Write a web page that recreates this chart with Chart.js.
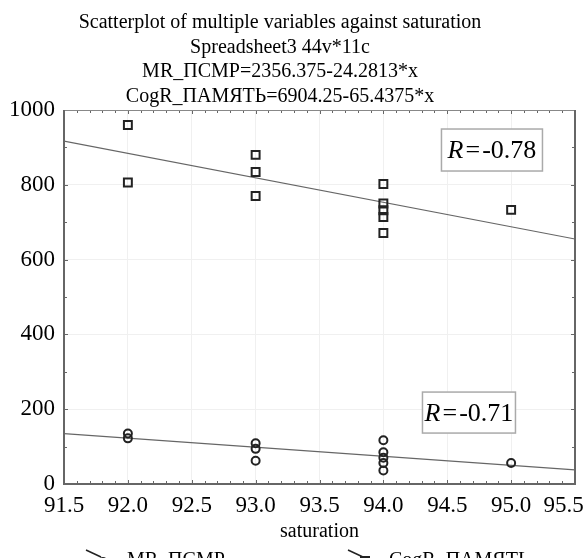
<!DOCTYPE html>
<html>
<head>
<meta charset="utf-8">
<script src="https://cdn.jsdelivr.net/npm/chart.js@4.4.1/dist/chart.umd.min.js"></script>
<style>
  html, body { margin: 0; padding: 0; background: #fff; overflow: hidden; }
  canvas { display: block; }
</style>
</head>
<body>
<canvas id="chart" width="588" height="558"></canvas>
<script>
// Данные
const TITLE_LINES = [
  'Scatterplot of multiple variables against saturation',
  'Spreadsheet3 44v*11c',
  'MR_ПСМР=2356.375-24.2813*x',
  'CogR_ПАМЯТЬ=6904.25-65.4375*x',
];
const X_TITLE = 'saturation';
const SERIES = ['MR_ПСМР', 'CogR_ПАМЯТЬ'];

const satX    = [92, 92, 93, 93, 93, 94, 94, 94, 94, 94, 95];
const mrVals  = [135, 122, 109, 94, 62, 117, 85, 70, 56, 36, 56];
const cogVals = [960, 806, 880, 834, 770, 802, 750, 732, 714, 671, 733];

const fitX   = [91.5, 95.5];
const mrFit  = [134.6, 37.5];
const cogFit = [916.7, 655.0];

const R_TEXT = ['-0.71', '-0.78'];

const X_TICKS = [91.5, 92.0, 92.5, 93.0, 93.5, 94.0, 94.5, 95.0, 95.5];
const Y_TICKS = [0, 200, 400, 600, 800, 1000];

const SERIF = '"Liberation Serif", "Times New Roman", serif';
const toPts = (xs, ys) => xs.map((x, i) => ({ x, y: ys[i] }));

const titlePlugin = {
  id: 'titleLines',
  afterDraw(chart) {
    const { ctx } = chart;
    ctx.save();
    ctx.fillStyle = '#000';
    ctx.font = `20px ${SERIF}`;
    ctx.textAlign = 'center';
    ctx.textBaseline = 'alphabetic';
    TITLE_LINES.forEach((t, i) => ctx.fillText(t, 280, 28 + i * 24.7));
    ctx.restore();
  },
};

// рамка и внутренние засечки на всех четырёх сторонах
const framePlugin = {
  id: 'frame',
  afterDatasetsDraw(chart) {
    const { ctx, chartArea: a, scales: { x, y } } = chart;
    ctx.save();
    ctx.strokeStyle = '#666';
    ctx.lineWidth = 1;
    ctx.beginPath();
    for (let i = 0; i <= 40; i++) {
      const px = Math.round(x.getPixelForValue(91.5 + i * 0.1)) + 0.5;
      const len = i % 5 === 0 ? 4 : 3;
      ctx.moveTo(px, a.bottom); ctx.lineTo(px, a.bottom - len);
      ctx.moveTo(px, a.top); ctx.lineTo(px, a.top + len);
    }
    for (let i = 0; i <= 10; i++) {
      const py = Math.round(y.getPixelForValue(i * 100)) + 0.5;
      const len = i % 2 === 0 ? 4 : 3;
      ctx.moveTo(a.left, py); ctx.lineTo(a.left + len, py);
      ctx.moveTo(a.right, py); ctx.lineTo(a.right - len, py);
    }
    ctx.stroke();

    ctx.strokeStyle = '#888';
    ctx.lineWidth = 1;
    ctx.beginPath();
    ctx.moveTo(a.left, a.top + 0.5); ctx.lineTo(a.right, a.top + 0.5);
    ctx.stroke();
    ctx.strokeStyle = '#666';
    ctx.lineWidth = 2;
    ctx.beginPath();
    ctx.moveTo(a.left, a.top); ctx.lineTo(a.left, a.bottom); ctx.lineTo(a.right, a.bottom); ctx.lineTo(a.right, a.top);
    ctx.stroke();
    ctx.restore();
  },
};

// рамки с коэффициентом корреляции
const rBoxPlugin = {
  id: 'rBoxes',
  afterDatasetsDraw(chart, args, opts) {
    const { ctx, scales: { x, y } } = chart;
    opts.boxes.forEach((b) => {
      const cx = x.getPixelForValue(b.x), cy = y.getPixelForValue(b.y);
      const l = cx - b.w / 2, t = cy - b.h / 2;
      ctx.save();
      ctx.fillStyle = '#fff';
      ctx.fillRect(l, t, b.w, b.h);
      ctx.strokeStyle = '#aaa';
      ctx.lineWidth = 1.5;
      ctx.strokeRect(l, t, b.w, b.h);
      ctx.fillStyle = '#000';
      ctx.textBaseline = 'alphabetic';
      ctx.textAlign = 'left';
      const fI = `italic 26px ${SERIF}`, fN = `26px ${SERIF}`;
      ctx.font = fI; const wR = ctx.measureText('R').width;
      ctx.font = fN; const wE = ctx.measureText('=').width, wV = ctx.measureText(b.text).width;
      const gap = 2;
      let px = cx - (wR + wE + wV + gap * 2) / 2;
      const base = cy + 8;
      ctx.font = fI; ctx.fillText('R', px, base); px += wR + gap;
      ctx.font = fN; ctx.fillText('=', px, base); px += wE + gap;
      ctx.fillText(b.text, px, base);
      ctx.restore();
    });
  },
};

// легенда внизу (обрезана краем картинки)
const legendPlugin = {
  id: 'bottomLegend',
  afterDraw(chart) {
    const { ctx } = chart;
    const items = [
      { x: 88, ds: chart.data.datasets[0] },
      { x: 350, ds: chart.data.datasets[1] },
    ];
    ctx.save();
    items.forEach((it) => {
      ctx.strokeStyle = '#222';
      ctx.lineWidth = 1.5;
      ctx.beginPath();
      ctx.moveTo(it.x - 2, 550); ctx.lineTo(it.x + 13, 557);
      ctx.stroke();
      ctx.lineWidth = 2;
      ctx.beginPath();
      if (it.ds.pointStyle === 'circle') ctx.arc(it.x + 15, 562, 4, 0, Math.PI * 2);
      else ctx.rect(it.x + 11, 557, 8, 8);
      ctx.stroke();
      ctx.fillStyle = '#000';
      ctx.font = `20px ${SERIF}`;
      ctx.textBaseline = 'alphabetic';
      ctx.fillText(it.ds.label, it.x + 39, 566);
    });
    ctx.restore();
  },
};

new Chart(document.getElementById('chart'), {
  type: 'scatter',
  data: {
    datasets: [
      {
        label: SERIES[0], data: toPts(satX, mrVals),
        pointStyle: 'circle', pointRadius: 4, pointHoverRadius: 4,
        borderColor: '#222', borderWidth: 2, backgroundColor: 'rgba(0,0,0,0)', order: 1,
      },
      {
        label: SERIES[1], data: toPts(satX, cogVals),
        pointStyle: 'rect', pointRadius: 5.6, pointHoverRadius: 5.6,
        borderColor: '#222', borderWidth: 2, backgroundColor: 'rgba(0,0,0,0)', order: 1,
      },
      {
        label: 'fit MR', data: toPts(fitX, mrFit), showLine: true,
        pointRadius: 0, borderColor: '#666', borderWidth: 1.2, order: 2,
      },
      {
        label: 'fit CogR', data: toPts(fitX, cogFit), showLine: true,
        pointRadius: 0, borderColor: '#666', borderWidth: 1.2, order: 2,
      },
    ],
  },
  options: {
    responsive: false,
    animation: false,
    layout: { padding: { top: 110, right: 13, left: 0, bottom: 0 } },
    plugins: {
      legend: { display: false },
      tooltip: { enabled: false },
      rBoxes: {
        boxes: [
          { x: 94.67, y: 191, w: 93, h: 41, text: R_TEXT[0] },
          { x: 94.85, y: 893, w: 101, h: 42, text: R_TEXT[1] },
        ],
      },
    },
    scales: {
      x: {
        type: 'linear', min: 91.5, max: 95.5,
        afterBuildTicks: (s) => { s.ticks = X_TICKS.map((v) => ({ value: v })); },
        afterFit: (s) => { s.height = 74; s.paddingLeft = 0; s.paddingRight = 0; },
        ticks: {
          color: '#000', font: { family: SERIF, size: 23 }, padding: 8, maxRotation: 0, autoSkip: false,
          // последняя подпись сдвинута внутрь, чтобы не уходить за край
          callback: (v) => (v === 95.5 ? v.toFixed(1) + '\u2002\u2002' : v.toFixed(1)),
        },
        grid: { color: '#f0f0f0', drawTicks: false },
        border: { display: false },
        title: { display: true, text: X_TITLE, color: '#000', font: { family: SERIF, size: 20 }, padding: { top: 0, bottom: 14 } },
      },
      y: {
        type: 'linear', min: 0, max: 1000,
        afterBuildTicks: (s) => { s.ticks = Y_TICKS.map((v) => ({ value: v })); },
        afterFit: (s) => { s.width = 64; s.paddingTop = 0; s.paddingBottom = 0; },
        ticks: { color: '#000', font: { family: SERIF, size: 23 }, padding: 9, callback: (v) => String(v) },
        grid: { color: '#f0f0f0', drawTicks: false },
        border: { display: false },
      },
    },
  },
  plugins: [titlePlugin, rBoxPlugin, framePlugin, legendPlugin],
});
</script>
</body>
</html>
